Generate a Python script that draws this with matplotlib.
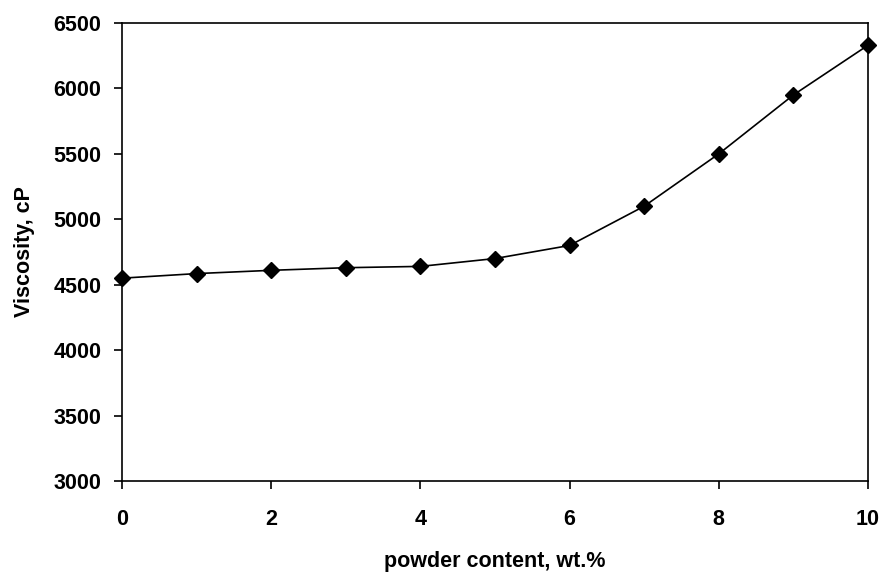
import matplotlib
matplotlib.use("Agg")
import matplotlib.pyplot as plt

powder_content = [0, 1, 2, 3, 4, 5, 6, 7, 8, 9, 10]
viscosity = [4550, 4585, 4610, 4630, 4640, 4700, 4800, 5100, 5500, 5950, 6330]
x_ticks = [0, 2, 4, 6, 8, 10]
y_ticks = [3000, 3500, 4000, 4500, 5000, 5500, 6000, 6500]

plt.rcParams['font.family'] = ['Liberation Sans', 'DejaVu Sans']
plt.rcParams['font.weight'] = 'bold'

fig = plt.figure(figsize=(8.84, 5.74), dpi=100)
ax = fig.add_axes([122/884, 1 - 481/574, (868 - 122)/884, (481 - 23)/574])

ax.plot(powder_content, viscosity, color='black', linewidth=1.2,
        marker='D', markersize=8.5, markerfacecolor='black', markeredgecolor='black',
        clip_on=False, zorder=3)

ax.set_xlim(0, 10)
ax.set_ylim(3000, 6500)
ax.set_xticks(x_ticks)
ax.set_yticks(y_ticks)
ax.set_xticklabels([str(v) for v in x_ticks], fontsize=15.5, fontweight='bold')
ax.set_yticklabels([str(v) for v in y_ticks], fontsize=15.5, fontweight='bold')
ax.tick_params(axis='both', direction='out', length=6, width=1.2, color='black')
ax.tick_params(axis='x', pad=14)
ax.tick_params(axis='y', pad=9)

for s in ax.spines.values():
    s.set_linewidth(1.2)
    s.set_color('black')

ax.set_xlabel('powder content, wt.%', fontsize=15.5, fontweight='bold', labelpad=15)
ax.set_ylabel('Viscosity, cP', fontsize=15.5, fontweight='bold', labelpad=13)

fig.savefig('out.png', dpi=100)
